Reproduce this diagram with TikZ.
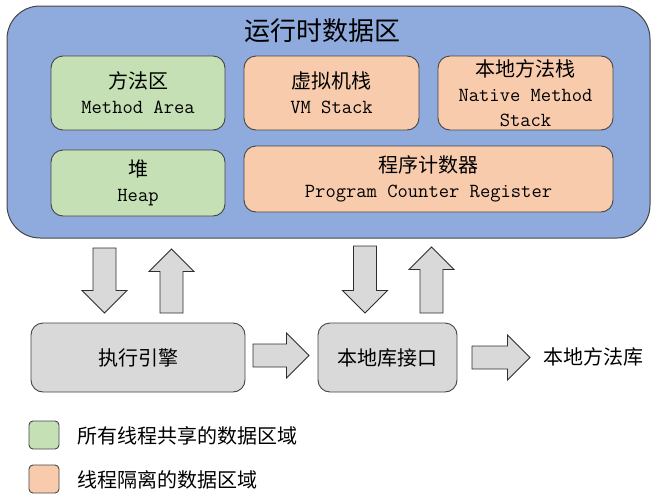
\documentclass[tikz,border=0pt]{standalone}
\usepackage{fontspec}
\newfontfamily\cjk{Noto Sans CJK SC}
\definecolor{areablue}{HTML}{8FAADC}
\definecolor{sharegreen}{HTML}{C5E0B4}
\definecolor{privorange}{HTML}{F8CBAD}
\definecolor{enggray}{HTML}{D9D9D9}
\definecolor{edgegray}{HTML}{454545}
\definecolor{arrowedge}{HTML}{2E2E2E}
\begin{document}
\begin{tikzpicture}[x=1pt,y=-1pt,
  outerbox/.style={draw=edgegray, line width=1pt, fill=areablue, rounded corners=33pt,
    minimum width=643pt, minimum height=232pt, inner sep=0pt},
  areabox/.style={draw=edgegray, line width=0.9pt, rounded corners=12pt, inner sep=2pt,
    align=center, font=\fontsize{20}{25}\selectfont\ttfamily},
  shared/.style={areabox, fill=sharegreen},
  private/.style={areabox, fill=privorange},
  engbox/.style={draw=edgegray, line width=0.9pt, fill=enggray, rounded corners=12pt,
    minimum height=69pt, font=\fontsize{20}{25}\selectfont\cjk},
  plaintext/.style={inner sep=0pt, font=\fontsize{20}{25}\selectfont\cjk},
  legendbox/.style={draw=edgegray, line width=0.9pt, rounded corners=4pt,
    minimum width=30pt, minimum height=28pt, inner sep=0pt},
  arrowstyle/.style={draw=arrowedge, line width=0.9pt, fill=enggray, line join=miter},
  blockarrow/.pic={\path[arrowstyle] (0,-11.5) -- (#1-22.5,-11.5) -- (#1-22.5,-22.5) -- (#1,0)
      -- (#1-22.5,22.5) -- (#1-22.5,11.5) -- (0,11.5) -- cycle;}
]
\useasboundingbox (0,0) rectangle (658,498);

% runtime data area
\node[outerbox] (rt) at (328.5,122) {};
\node[inner sep=0pt, font=\fontsize{26}{30}\selectfont\cjk] (title) at (322.5,30.5) {运行时数据区};

\node[shared, minimum width=174pt, minimum height=74pt] (method) at (138,93)
  {{\cjk 方法区}\\Method Area};
\node[private, minimum width=175pt, minimum height=74pt] (vms) at (331.5,93)
  {{\cjk 虚拟机栈}\\VM Stack};
\node[private, minimum width=175pt, minimum height=74pt] (nms) at (525.5,93)
  {{\cjk 本地方法栈}\\Native Method\\Stack};
\node[shared, minimum width=174pt, minimum height=66pt] (heap) at (138,183)
  {{\cjk 堆}\\Heap};
\node[private, minimum width=369pt, minimum height=66pt] (pc) at (428.5,179)
  {{\cjk 程序计数器}\\Program Counter Register};

% execution engine and native interface
\node[engbox, minimum width=214pt] (engine) at (138,357.5) {执行引擎};
\node[engbox, minimum width=139pt] (jni) at (387.5,357.5) {本地库接口};
\node[plaintext, anchor=west] (natlib) at (543,357) {本地方法库};

% block arrows
\pic (d1) at (104.5,248) [rotate=-90] {blockarrow=65};
\pic (u1) at (171.5,313) [rotate=90] {blockarrow=64};
\pic (d2) at (365,246) [rotate=-90] {blockarrow=67};
\pic (u2) at (431.5,313) [rotate=90] {blockarrow=66};
\pic (r1) at (253,355.5) {blockarrow=56};
\pic (r2) at (472,357.5) {blockarrow=58};

% legend
\node[legendbox, fill=sharegreen] (lg1) at (44,435) {};
\node[plaintext, anchor=west] (lt1) at (77,436) {所有线程共享的数据区域};
\node[legendbox, fill=privorange] (lg2) at (44,479) {};
\node[plaintext, anchor=west] (lt2) at (77,480) {线程隔离的数据区域};
\end{tikzpicture}
\end{document}
